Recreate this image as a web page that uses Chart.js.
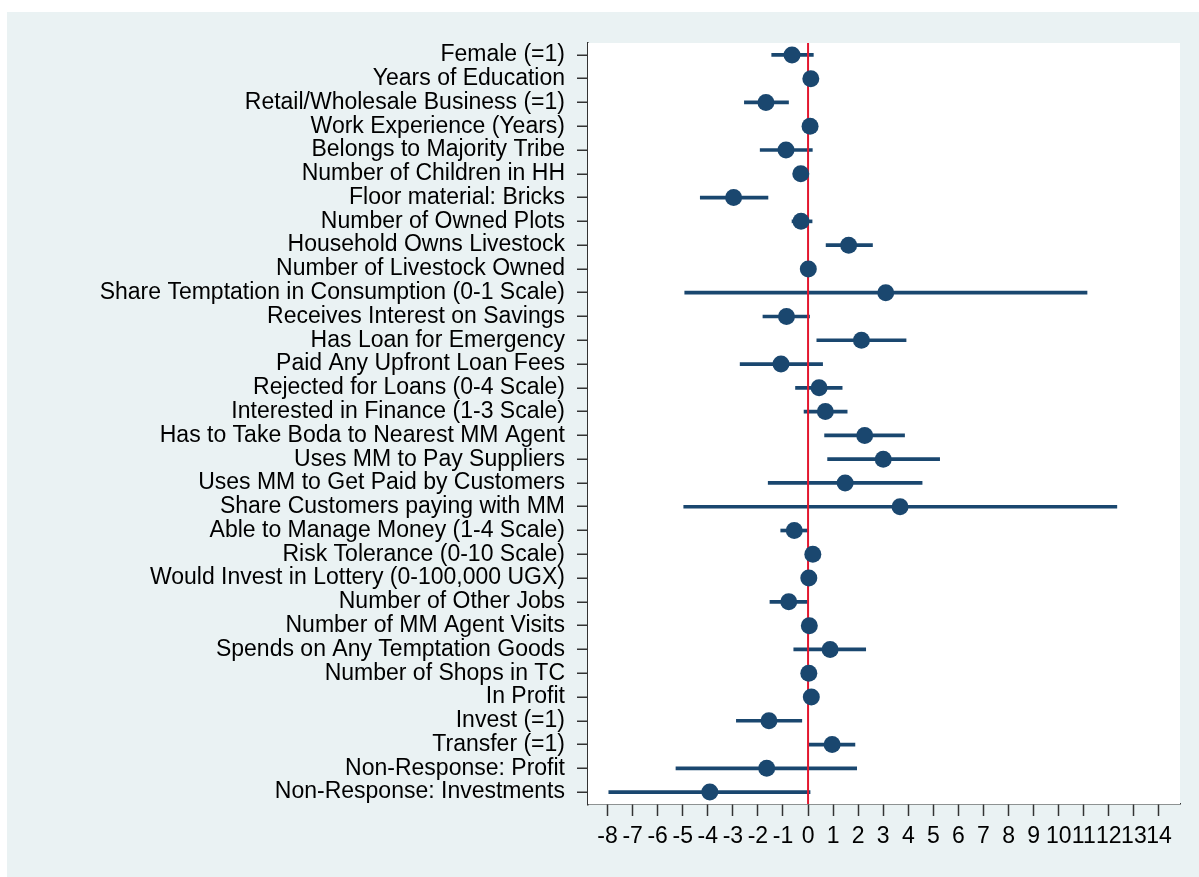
<!DOCTYPE html>
<html>
<head>
<meta charset="utf-8">
<script src="https://cdn.jsdelivr.net/npm/chart.js@4"></script>
<style>
    body { margin: 0; background: #fff; }
    #panel { position: absolute; left: 7px; top: 12px; right: 0; bottom: 0; background: #eaf2f3; }
    #wrap { position: absolute; left: 0; top: 0; width: 1199px; height: 877px; }
</style>
</head>
<body>
<div id="panel"></div>
<div id="wrap"><canvas id="coefPlot" width="1199" height="877"></canvas></div>
<script>
// variaveis do grafico
var variaveis = ['Female (=1)', 'Years of Education', 'Retail/Wholesale Business (=1)', 'Work Experience (Years)',
    'Belongs to Majority Tribe', 'Number of Children in HH', 'Floor material: Bricks', 'Number of Owned Plots',
    'Household Owns Livestock', 'Number of Livestock Owned', 'Share Temptation in Consumption (0-1 Scale)',
    'Receives Interest on Savings', 'Has Loan for Emergency', 'Paid Any Upfront Loan Fees',
    'Rejected for Loans (0-4 Scale)', 'Interested in Finance (1-3 Scale)', 'Has to Take Boda to Nearest MM Agent',
    'Uses MM to Pay Suppliers', 'Uses MM to Get Paid by Customers', 'Share Customers paying with MM',
    'Able to Manage Money (1-4 Scale)', 'Risk Tolerance (0-10 Scale)', 'Would Invest in Lottery (0-100,000 UGX)',
    'Number of Other Jobs', 'Number of MM Agent Visits', 'Spends on Any Temptation Goods',
    'Number of Shops in TC', 'In Profit', 'Invest (=1)', 'Transfer (=1)',
    'Non-Response: Profit', 'Non-Response: Investments']

var coeficientes = [-0.64, 0.11, -1.68, 0.08, -0.88, -0.29, -2.97, -0.28, 1.62, 0.01, 3.1, -0.86, 2.13, -1.08, 0.44, 0.69,
    2.26, 3.0, 1.48, 3.67, -0.55, 0.19, 0.03, -0.77, 0.05, 0.88, 0.03, 0.13, -1.56, 0.96, -1.65, -3.92]
var limiteInferior = [-1.45, 0.05, -2.54, 0.03, -1.91, -0.4, -4.3, -0.64, 0.72, -0.02, -4.92, -1.8, 0.35, -2.71, -0.5, -0.16,
    0.66, 0.78, -1.59, -4.96, -1.09, 0.12, -0.01, -1.52, 0.0, -0.57, -0.01, 0.07, -2.86, 0.03, -5.27, -7.95]
var limiteSuperior = [0.21, 0.17, -0.78, 0.13, 0.17, -0.18, -1.6, 0.16, 2.57, 0.04, 11.13, 0.06, 3.91, 0.58, 1.36, 1.56,
    3.85, 5.25, 4.55, 12.32, 0.0, 0.26, 0.07, -0.03, 0.1, 2.3, 0.07, 0.19, -0.25, 1.87, 1.94, 0.08]

var xMin = -8.78
var xMax = 14.84

var azul = '#1a476f'
var vermelho = '#e3172f'

Grafico()

function Grafico() {

    var intervalos = limiteInferior.map(function (lo, i) { return [lo, limiteSuperior[i]] })

    // fundo branco da area do grafico + linha vermelha no zero
    var fundoELinha = {
        id: 'fundoELinha',
        beforeDatasetsDraw: function (chart) {
            var a = chart.chartArea
            var c = chart.ctx
            c.save()
            c.fillStyle = '#ffffff'
            c.fillRect(a.left, a.top, a.right - a.left, a.bottom - a.top)
            c.restore()
        },
        afterDatasetDraw: function (chart, args) {
            if (args.index !== 1) return
            var a = chart.chartArea
            var c = chart.ctx
            var x0 = chart.scales.x.getPixelForValue(0)
            c.save()
            c.strokeStyle = vermelho
            c.lineWidth = 2
            c.beginPath()
            c.moveTo(x0, a.top)
            c.lineTo(x0, a.bottom)
            c.stroke()
            c.restore()
        }
    }

    var ctx = document.getElementById('coefPlot').getContext('2d')
    var meuGrafico = new Chart(ctx, {
        type: 'bar',
        data: {
            labels: variaveis,
            datasets: [{
                type: 'line',
                label: 'Coeficiente',
                data: coeficientes,
                showLine: false,
                pointRadius: 8.5,
                pointHoverRadius: 8.5,
                pointBackgroundColor: azul,
                pointBorderColor: azul,
                pointBorderWidth: 0
            }, {
                label: 'IC',
                data: intervalos,
                backgroundColor: azul,
                borderWidth: 0,
                barThickness: 3
            }]
        },
        options: {
            indexAxis: 'y',
            responsive: false,
            animation: false,
            layout: { padding: { top: 43, right: 19, left: 0, bottom: 0 } },
            plugins: {
                legend: { display: false },
                tooltip: { enabled: false }
            },
            scales: {
                x: {
                    type: 'linear',
                    min: xMin,
                    max: xMax,
                    afterFit: function (s) { s.height = 73 },
                    ticks: {
                        stepSize: 1,
                        includeBounds: false,
                        autoSkip: false,
                        maxRotation: 0,
                        padding: 7,
                        color: '#000',
                        font: { family: 'Liberation Sans, Arial, sans-serif', size: 23 }
                    },
                    grid: {
                        drawOnChartArea: false,
                        tickLength: 12,
                        tickColor: '#333',
                        tickWidth: 1.5
                    },
                    border: { color: '#333', width: 1.5 }
                },
                y: {
                    type: 'category',
                    offset: true,
                    afterFit: function (s) { s.width = 588 },
                    ticks: {
                        autoSkip: false,
                        padding: 12,
                        color: '#000',
                        font: { family: 'Liberation Sans, Arial, sans-serif', size: 23 }
                    },
                    grid: {
                        offset: false,
                        color: '#eaf2f3',
                        lineWidth: 2.5,
                        tickLength: 11,
                        tickColor: '#333',
                        tickWidth: 1.5
                    },
                    border: { color: '#333', width: 1.5 }
                }
            }
        },
        plugins: [fundoELinha]
    })

}
</script>
</body>
</html>
